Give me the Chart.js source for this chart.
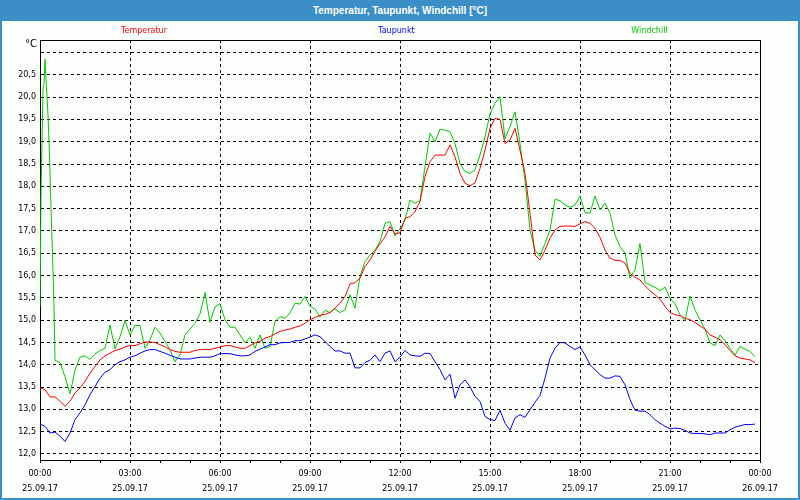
<!DOCTYPE html>
<html>
<head>
    <title>Temperatur, Taupunkt, Windchill</title>
    <script src="https://cdn.jsdelivr.net/npm/chart.js"></script>
    <style>
        body { margin: 0; background: #fcfffc; }
        #wrap { position: relative; width: 800px; height: 500px; }
        #chart { position: absolute; left: 0; top: 0; background: #fcfffc; }
        #titlebar { position: absolute; left: 0; top: 0; width: 800px; height: 21px; background: #3c8fc6;
                    color: #fff; font: bold 10px 'Liberation Sans', Arial, sans-serif; text-align: center; line-height: 21px; }
        #frame { position: absolute; left: 0; top: 0; width: 796px; height: 498px; border: 2px solid #3c8fc6; border-top: none; pointer-events: none; }
    </style>
</head>
<body>
    <div id="wrap">
        <canvas id="chart" width="800" height="500"></canvas>
        <div id="titlebar">Temperatur, Taupunkt, Windchill [°C]</div>
        <div id="frame"></div>
    </div>

    <script>
        // minutes since 25.09.17 00:00 (denser at the start where windchill jumps)
        const minutes = [
            0, 2, 4, 6, 8, 10, 12, 14, 16, 18, 20, 22, 24, 26, 28, 30,
            40, 50, 60, 70, 80, 90, 100, 110, 120, 130, 140, 150, 160, 170, 180, 190,
            200, 210, 220, 230, 240, 250, 260, 270, 280, 290, 300, 310, 320, 330, 340, 350,
            360, 370, 380, 390, 400, 410, 420, 430, 440, 450, 460, 470, 480, 490, 500, 510,
            520, 530, 540, 550, 560, 570, 580, 590, 600, 610, 620, 630, 640, 650, 660, 670,
            680, 690, 700, 710, 720, 730, 740, 750, 760, 770, 780, 790, 800, 810, 820, 830,
            840, 850, 860, 870, 880, 890, 900, 910, 920, 930, 940, 950, 960, 970, 980, 990,
            1000, 1010, 1020, 1030, 1040, 1050, 1060, 1070, 1080, 1090, 1100, 1110, 1120, 1130, 1140, 1150,
            1160, 1170, 1180, 1190, 1200, 1210, 1220, 1230, 1240, 1250, 1260, 1270, 1280, 1290, 1300, 1310,
            1320, 1330, 1340, 1350, 1360, 1370, 1380, 1390, 1400, 1410, 1420, 1430
        ];

        const temperatur = [
            13.49, null, null, null, null, 13.44, null, null, null, null, 13.28, null, null, null, null, 13.28,
            13.18, 13.07, 13.18, 13.37, 13.48, 13.63, 13.81, 13.96,
            14.11, 14.20, 14.26, 14.32, 14.35, 14.40, 14.43, 14.43, 14.47, 14.51, 14.51, 14.50,
            14.45, 14.40, 14.34, 14.30, 14.28, 14.28, 14.28, 14.32, 14.34, 14.34, 14.34, 14.37,
            14.40, 14.43, 14.43, 14.40, 14.37, 14.37, 14.43, 14.49, 14.52, 14.60, 14.63, 14.69,
            14.75, 14.78, 14.80, 14.84, 14.87, 14.93, 15.01, 15.06, 15.11, 15.13, 15.17, 15.27,
            15.38, 15.53, 15.81, 15.84, 15.94, 16.20, 16.35, 16.54, 16.71, 16.87, 17.10, 16.93,
            16.96, 17.28, 17.32, 17.43, 17.66, 18.22, 18.55, 18.70, 18.70, 18.70, 18.93, 18.66,
            18.29, 18.07, 18.01, 18.08, 18.40, 18.81, 19.30, 19.52, 19.50, 18.96, 19.04, 19.30,
            18.81, 18.29, 17.40, 16.46, 16.35, 16.57, 16.84, 17.02, 17.10, 17.11, 17.11, 17.10,
            17.16, 17.21, 17.17, 17.06, 16.86, 16.57, 16.39, 16.34, 16.34, 16.28, 16.05, 15.96,
            15.90, 15.77, 15.66, 15.57, 15.47, 15.31, 15.17, 15.12, 15.10, 15.04, 15.01, 14.95,
            14.87, 14.80, 14.67, 14.62, 14.56, 14.45, 14.32, 14.20, 14.15, 14.13, 14.11, 14.05
        ];

        const taupunkt = [
            12.67, null, null, null, null, 12.62, null, null, null, null, 12.47, null, null, null, null, 12.49,
            12.40, 12.28, 12.47, 12.77, 12.92, 13.10, 13.33, 13.51,
            13.70, 13.83, 13.89, 14.00, 14.07, 14.11, 14.17, 14.20, 14.26, 14.31, 14.34, 14.34,
            14.30, 14.26, 14.21, 14.17, 14.13, 14.13, 14.13, 14.15, 14.17, 14.17, 14.17, 14.20,
            14.25, 14.25, 14.25, 14.22, 14.20, 14.20, 14.22, 14.30, 14.35, 14.40, 14.45, 14.45,
            14.49, 14.50, 14.50, 14.54, 14.54, 14.58, 14.62, 14.67, 14.63, 14.52, 14.41, 14.31,
            14.31, 14.26, 14.26, 13.93, 13.93, 14.05, 14.10, 14.22, 14.07, 14.26, 14.31, 14.07,
            14.17, 14.32, 14.22, 14.20, 14.19, 14.26, 14.25, 14.07, 13.89, 13.66, 13.79, 13.25,
            13.55, 13.66, 13.51, 13.29, 13.18, 12.84, 12.77, 12.75, 12.98, 12.69, 12.53, 12.81,
            12.88, 12.82, 12.99, 13.16, 13.31, 13.70, 14.15, 14.37, 14.50, 14.49, 14.41, 14.34,
            14.40, 14.22, 14.00, 13.89, 13.78, 13.70, 13.70, 13.75, 13.74, 13.55, 13.22, 12.98,
            12.96, 12.96, 12.88, 12.77, 12.69, 12.62, 12.56, 12.58, 12.57, 12.53, 12.47, 12.46,
            12.46, 12.45, 12.43, 12.47, 12.47, 12.47, 12.54, 12.60, 12.63, 12.66, 12.66, 12.67
        ];

        const windchill = [
            15.30, 17.80, 19.00, 20.20, 20.30, 20.85, 20.40, 20.00, 19.60, 19.00, 18.30, 17.50, 16.80, 16.10, 15.30, 14.10,
            14.05, 13.73, 13.35, 13.88, 14.17, 14.20, 14.12, 14.24,
            14.32, 14.37, 14.89, 14.36, 14.63, 14.99, 14.67, 14.88, 14.88, 14.37, 14.56, 14.84,
            14.71, 14.52, 14.33, 14.07, 14.22, 14.67, 14.80, 14.93, 15.14, 15.62, 14.95, 15.30,
            15.37, 15.01, 14.84, 14.84, 14.67, 14.49, 14.62, 14.37, 14.67, 14.37, 14.41, 14.97,
            15.08, 15.04, 15.16, 15.38, 15.36, 15.53, 15.31, 15.25, 15.07, 15.22, 15.17, 15.25,
            15.17, 15.23, 15.57, 15.27, 15.98, 16.31, 16.46, 16.57, 16.76, 17.17, 17.21, 16.89,
            17.05, 17.25, 17.69, 17.62, 17.68, 18.44, 19.19, 19.00, 19.28, 19.26, 19.22, 18.96,
            18.51, 18.33, 18.29, 18.37, 18.70, 19.11, 19.62, 19.86, 20.01, 19.07, 19.34, 19.67,
            18.96, 18.14, 17.02, 16.57, 16.43, 16.72, 17.02, 17.71, 17.68, 17.58, 17.53, 17.58,
            17.78, 17.41, 17.40, 17.78, 17.47, 17.62, 17.40, 16.91, 16.65, 16.50, 15.94, 16.13,
            16.72, 15.84, 15.79, 15.74, 15.66, 15.74, 15.49, 15.37, 15.12, 14.99, 15.54, 15.23,
            15.01, 14.80, 14.49, 14.43, 14.67, 14.54, 14.37, 14.22, 14.41, 14.35, 14.30, 14.18
        ];

        // x tick labels every 3 hours
        const timeTicks = ['00:00', '03:00', '06:00', '09:00', '12:00', '15:00', '18:00', '21:00', '00:00'];
        const dateTicks = ['25.09.17', '25.09.17', '25.09.17', '25.09.17', '25.09.17', '25.09.17', '25.09.17', '25.09.17', '26.09.17'];

        const seriesNames = ['Temperatur', 'Taupunkt', 'Windchill'];
        const seriesColors = ['#ff0000', '#0000ff', '#00c800'];

        const smallFont = "'DejaVu Sans', sans-serif";

        function toPoints(values) {
            const pts = [];
            values.forEach((v, i) => { pts.push({ x: minutes[i], y: v }); });
            return pts;
        }

        // legend texts, °C unit and the top/right frame of the plot
        const decorations = {
            id: 'decorations',
            afterDraw(chart) {
                const ctx = chart.ctx;
                const a = chart.chartArea;
                ctx.save();
                ctx.strokeStyle = '#000';
                ctx.lineWidth = 1;
                ctx.beginPath();
                ctx.moveTo(a.left, Math.round(a.top) + 0.5);
                ctx.lineTo(Math.round(a.right) + 0.5, Math.round(a.top) + 0.5);
                ctx.lineTo(Math.round(a.right) + 0.5, a.bottom);
                ctx.stroke();

                ctx.textBaseline = 'middle';
                ctx.textAlign = 'right';
                ctx.fillStyle = '#000';
                ctx.font = '10px ' + smallFont;
                ctx.fillText('°C', a.left - 3, a.top + 4);

                ctx.font = '8px ' + smallFont;
                const w = a.right - a.left;
                const fractions = [0.1444, 0.495, 0.8465];
                ctx.textAlign = 'center';
                seriesNames.forEach((name, i) => {
                    ctx.fillStyle = seriesColors[i];
                    ctx.fillText(name, a.left + w * fractions[i], 31);
                });
                ctx.restore();
            }
        };

        new Chart(document.getElementById('chart'), {
            type: 'line',
            data: {
                datasets: [
                    { label: seriesNames[0], data: toPoints(temperatur), borderColor: seriesColors[0] },
                    { label: seriesNames[1], data: toPoints(taupunkt), borderColor: seriesColors[1] },
                    { label: seriesNames[2], data: toPoints(windchill), borderColor: seriesColors[2] }
                ]
            },
            options: {
                responsive: false,
                animation: false,
                spanGaps: true,
                layout: { padding: { top: 40, right: 40, left: 0, bottom: 0 } },
                elements: {
                    point: { radius: 0 },
                    line: { borderWidth: 1, tension: 0, fill: false }
                },
                plugins: {
                    legend: { display: false },
                    tooltip: { enabled: false }
                },
                scales: {
                    x: {
                        type: 'linear',
                        min: 0,
                        max: 1440,
                        afterFit: (s) => { s.height = 40; },
                        ticks: {
                            stepSize: 60,
                            autoSkip: false,
                            maxRotation: 0,
                            color: '#000',
                            padding: 3,
                            font: { family: smallFont, size: 8, lineHeight: '15px' },
                            callback: (v) => v % 180 === 0 ? [timeTicks[v / 180], dateTicks[v / 180]] : ''
                        },
                        grid: {
                            color: (c) => (c.tick && c.tick.value % 180 === 0) ? '#000' : 'rgba(0,0,0,0)',
                            tickColor: '#000',
                            tickLength: 3
                        },
                        border: { color: '#000', dash: [3, 3] }
                    },
                    y: {
                        min: 11.865,
                        max: 21.28,
                        afterFit: (s) => { s.width = 40; },
                        ticks: {
                            stepSize: 0.5,
                            includeBounds: false,
                            color: '#000',
                            padding: 4,
                            font: { family: smallFont, size: 8 },
                            callback: (v) => v > 20.9 ? '' : v.toFixed(1).replace('.', ',')
                        },
                        grid: { color: '#000', drawTicks: false },
                        border: { color: '#000', dash: [3, 3] }
                    }
                }
            },
            plugins: [decorations]
        });
    </script>
</body>
</html>
